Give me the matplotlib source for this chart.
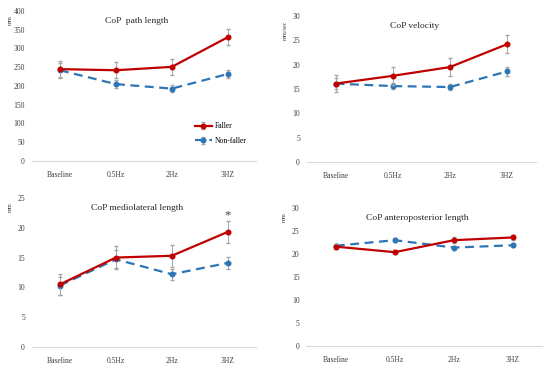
import matplotlib
matplotlib.use("Agg")
import matplotlib.pyplot as plt

plt.rcParams["font.family"] = ["Liberation Serif", "DejaVu Serif"]

conditions = ["Baseline", "0.5Hz", "2Hz", "3HZ"]

# CoP path length (mm)
path_faller = [245, 242, 251, 330]
path_faller_err = [21, 22, 22, 21]
path_nonfaller = [242, 205, 193, 232]
path_nonfaller_err = [20, 10, 10, 11]

# CoP velocity (mm/sec)
vel_faller = [16.1, 17.7, 19.5, 24.2]
vel_faller_err = [1.7, 1.8, 1.9, 1.8]
vel_nonfaller = [16.1, 15.6, 15.4, 18.6]
vel_nonfaller_err = [1.2, 0.6, 0.7, 0.9]

# CoP mediolateral length (mm)
ml_faller = [10.5, 15.0, 15.3, 19.3]
ml_faller_err = [1.8, 1.9, 1.8, 1.9]
ml_nonfaller = [10.3, 14.7, 12.2, 14.1]
ml_nonfaller_err = [1.5, 1.5, 0.9, 1.0]

# CoP anteroposterior length (mm)
ap_faller = [21.6, 20.4, 23.0, 23.6]
ap_faller_err = [0.5, 0.5, 0.6, 0.5]
ap_nonfaller = [21.8, 23.0, 21.4, 21.9]
ap_nonfaller_err = [0.4, 0.4, 0.4, 0.4]

red = "#C00000"
blue = "#2E75B6"

fig = plt.figure(figsize=(5.5, 3.69), dpi=100)

panels = [
    # rect, title, ylabel, ymax, ystep, faller, ferr, nonfaller, nerr
    ([0.058, 0.5637, 0.407, 0.4065], "CoP  path length", "mm", 400, 50,
     path_faller, path_faller_err, path_nonfaller, path_nonfaller_err),
    ([0.558, 0.561, 0.416, 0.3957], "CoP velocity", "mm/sec", 30, 5,
     vel_faller, vel_faller_err, vel_nonfaller, vel_nonfaller_err),
    ([0.058, 0.0596, 0.407, 0.404], "CoP mediolateral length", "mm", 25, 5,
     ml_faller, ml_faller_err, ml_nonfaller, ml_nonfaller_err),
    ([0.557, 0.0623, 0.429, 0.374], "CoP anteroposterior length", "mm", 30, 5,
     ap_faller, ap_faller_err, ap_nonfaller, ap_nonfaller_err),
]

x = list(range(len(conditions)))
axes = []
for rect, title, ylab, ymax, ystep, fv, fe, nv, ne in panels:
    ax = fig.add_axes(rect)
    ax.errorbar(x, nv, yerr=ne, color=blue, lw=1.6, ls=(0, (4, 2.5)),
                marker="o", ms=3.3, ecolor="#A6A6A6", elinewidth=0.7,
                capsize=1.5, label="Non-faller", zorder=3)
    ax.errorbar(x, fv, yerr=fe, color=red, lw=1.6, marker="o", ms=3.3,
                ecolor="#A6A6A6", elinewidth=0.7, capsize=1.5,
                label="Faller", zorder=4)
    ax.set_xlim(-0.5, len(conditions) - 0.5)
    ax.set_ylim(0, ymax)
    ax.set_yticks(range(0, ymax + 1, ystep))
    ax.set_xticks(x)
    ax.set_xticklabels(conditions)
    for s in ["top", "right", "left"]:
        ax.spines[s].set_visible(False)
    ax.spines["bottom"].set_color("#D9D9D9")
    ax.spines["bottom"].set_linewidth(0.8)
    ax.tick_params(axis="both", length=0, labelsize=5.5, colors="#404040")
    ax.tick_params(axis="x", pad=7)
    ax.tick_params(axis="y", pad=5)
    ax.text(0.47, 0.93, title, transform=ax.transAxes, ha="center",
            va="center", fontsize=6.8, color="#262626")
    ax.text(-0.095, 0.97, ylab, transform=ax.transAxes, rotation=90,
            ha="center", va="top", fontsize=4.5, color="#404040")
    axes.append(ax)

# significance marker
axes[2].text(3, 22.0, "*", ha="center", va="center", fontsize=9, color="#404040")

# legend in first panel
h, l = axes[0].get_legend_handles_labels()
axes[0].legend(h[::-1], l[::-1], loc="lower right", bbox_to_anchor=(0.99, 0.06),
               frameon=False, fontsize=5.5, handlelength=2.2, handletextpad=0.4,
               labelspacing=0.9)

fig.savefig("out.png", dpi=100)
